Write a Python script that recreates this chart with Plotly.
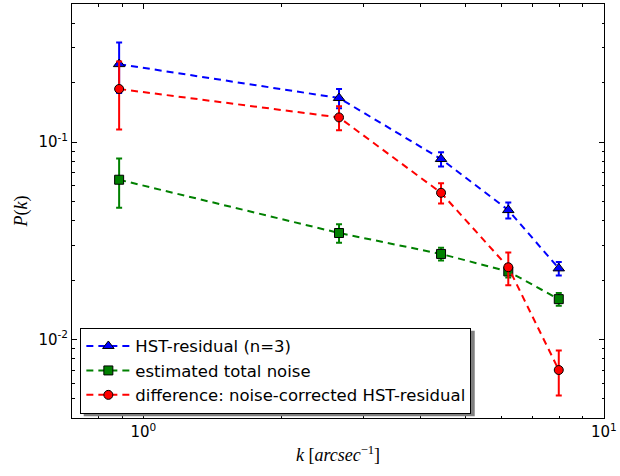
import plotly.graph_objects as go
import numpy as np

# data
k = [0.886, 2.66, 4.43, 6.20, 7.98]

hst = [0.248, 0.167, 0.082, 0.0452, 0.0229]
hst_err = [0.071, 0.0186, 0.0068, 0.0042, 0.0018]

noise = [0.0644, 0.0346, 0.0271, 0.0221, 0.0160]
noise_err = [0.018, 0.0037, 0.002, 0.0015, 0.0012]

diff = [0.1856, 0.1332, 0.0553, 0.0232, 0.0070]
diff_err = [0.07, 0.0185, 0.0065, 0.0044, 0.0018]

names = ["HST-residual (n=3)", "estimated total noise",
         "difference: noise-corrected HST-residual"]

x_tickvals = [1, 10]
x_ticktext = ["10<sup>0</sup>", "10<sup>1</sup>"]
x_minor = [0.7, 0.8, 0.9, 2, 3, 4, 5, 6, 7, 8, 9]
y_tickvals = [0.01, 0.1]
y_ticktext = ["10<sup>-2</sup>", "10<sup>-1</sup>"]
y_minor = [0.004, 0.005, 0.006, 0.007, 0.008, 0.009,
           0.02, 0.03, 0.04, 0.05, 0.06, 0.07, 0.08, 0.09,
           0.2, 0.3, 0.4, 0.5]

fig = go.Figure()

series = [
    (hst, hst_err, "#0000ff", "triangle-up", 10, names[0]),
    (noise, noise_err, "#008000", "square", 9, names[1]),
    (diff, diff_err, "#ff0000", "circle", 9, names[2]),
]
for y, e, c, sym, sz, nm in series:
    fig.add_trace(go.Scatter(
        x=k, y=y, name=nm, mode="lines+markers",
        line=dict(color=c, width=2, dash="7px,5px"),
        marker=dict(symbol=sym, size=sz, color=c, line=dict(color="black", width=1)),
        error_y=dict(type="data", array=e, visible=True, color=c, thickness=2, width=3),
    ))

axis_common = dict(
    type="log", showgrid=False, zeroline=False, showline=True,
    linecolor="black", linewidth=1, mirror="allticks",
    ticks="inside", ticklen=5, tickwidth=1, tickcolor="black",
    ticklabeloverflow="allow",
    tickfont=dict(family="DejaVu Sans", size=15, color="black"),
)

# legend drop shadow (paper coordinates)
fig.add_shape(type="rect", xref="paper", yref="paper",
              x0=0.022, x1=0.757, y0=0.004, y1=0.211,
              fillcolor="#7f7f7f", line=dict(width=0), layer="above")

fig.update_layout(
    width=620, height=476,
    margin=dict(l=72, r=12, t=3, b=58),
    paper_bgcolor="white", plot_bgcolor="white",
    xaxis=dict(range=[np.log10(0.7), 1.0002],
               tickmode="array", tickvals=x_tickvals, ticktext=x_ticktext,
               minor=dict(tickmode="array", tickvals=x_minor, ticks="inside",
                          ticklen=2.5, tickwidth=1, tickcolor="black", showgrid=False),
               title=dict(text="<i>k</i> [<i>arcsec</i><sup>−1</sup>]",
                          font=dict(family="Liberation Serif", size=18, color="black"),
                          standoff=8),
               **axis_common),
    yaxis=dict(range=[np.log10(0.004), np.log10(0.5)],
               tickmode="array", tickvals=y_tickvals, ticktext=y_ticktext,
               minor=dict(tickmode="array", tickvals=y_minor, ticks="inside",
                          ticklen=2.5, tickwidth=1, tickcolor="black", showgrid=False),
               title=dict(text="<i>P</i>(<i>k</i>)",
                          font=dict(family="Liberation Serif", size=18, color="black"),
                          standoff=6),
               **axis_common),
    legend=dict(x=0.0157, y=0.218, xanchor="left", yanchor="top",
                bgcolor="white", bordercolor="black", borderwidth=1,
                font=dict(family="DejaVu Sans", size=16.5, color="black"),
                itemwidth=44),
    showlegend=True,
)

fig.write_html("out.html")
